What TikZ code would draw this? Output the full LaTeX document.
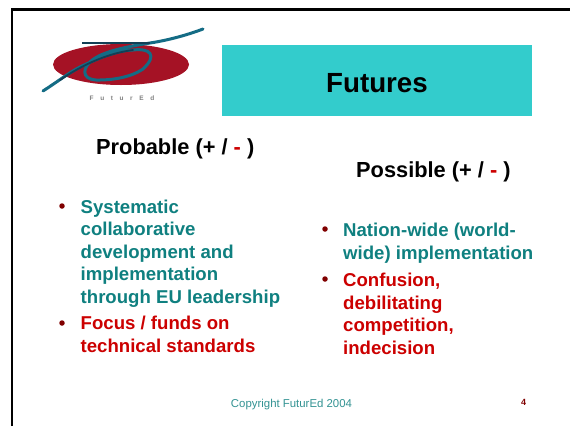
\documentclass[tikz,border=0pt]{standalone}
\usepackage{fontspec}
\setmainfont{Liberation Sans}
\definecolor{teal1}{HTML}{0F8080}
\definecolor{red1}{HTML}{CC0000}
\definecolor{cyan1}{HTML}{33CCCC}
\definecolor{logored}{HTML}{A51225}
\definecolor{logoblue}{HTML}{146C85}
\definecolor{logodark}{HTML}{123F55}
\definecolor{bulletc}{HTML}{800000}
\newcommand{\lsp}{\hspace{6.6pt}}
\tikzset{
 x=1pt,y=-1pt,
 head/.style={font=\bfseries\fontsize{21.8}{26}\selectfont,anchor=base west,inner sep=0},
 blist/.style={font=\bfseries\fontsize{18.6}{22.4}\selectfont,anchor=base west,inner sep=0,align=left},
 dot/.style={circle,fill=bulletc,inner sep=0,minimum size=5.5pt}
}
\begin{document}
\begin{tikzpicture}
\useasboundingbox (0,0) rectangle (570,426);
\fill[white] (0,0) rectangle (570,426);
\draw[black,line width=2.4pt] (12,426) -- (12,9.5) -- (570,9.5);
\fill[cyan1] (222,45) rectangle (532,116);
\node (title) at (377,92) [font=\bfseries\fontsize{27.7}{30}\selectfont,anchor=base,inner sep=0] {Futures};
% logo
\fill[logored] (121,64.5) ellipse [x radius=68,y radius=20.5];
\draw[logoblue,line width=3pt,line cap=round] (43,91) .. controls (60,80) and (70,72) .. (80,67) .. controls (100,57) and (120,50) .. (133,50) .. controls (150,48) and (158,55) .. (143,69) .. controls (130,78) and (110,80) .. (100,80) .. controls (85,81) and (80,72) .. (90,62) .. controls (100,52) and (125,47) .. (150,43) .. controls (170,40) and (190,34) .. (203,29);
\draw[logodark,line width=1.8pt,line cap=round] (60,80) .. controls (85,63) and (110,53) .. (133,50);
\draw[logodark,line width=1.8pt] (82,43) -- (150,43);
\node (logotext) at (122,100) [font=\bfseries\fontsize{6.5}{7}\selectfont,text=gray,anchor=base,inner sep=0] {F\lsp u\lsp t\lsp u\lsp r\lsp E\lsp d};
\node (probable) at (96,154) [head] {Probable (+ / \textcolor{red1}{-} )};
\node (possible) at (356,177) [head] {Possible (+ / \textcolor{red1}{-} )};
\node[dot] (b1) at (62,206) {};
\node (t1) at (80.5,303) [blist,text=teal1] {Systematic\\collaborative\\development and\\implementation\\through EU leadership};
\node[dot] (b2) at (62,323) {};
\node (t2) at (80.5,352) [blist,text=red1] {Focus / funds on\\technical standards};
\node[dot] (b3) at (325,229) {};
\node (t3) at (343,259) [blist,text=teal1] {Nation-wide (world-\\wide) implementation};
\node[dot] (b4) at (325,279) {};
\node (t4) at (343,354) [blist,text=red1] {Confusion,\\debilitating\\competition,\\indecision};
\node (copy) at (291.5,407) [font=\fontsize{11.4}{13}\selectfont,text=teal1!85!white,anchor=base,inner sep=0] {Copyright FuturEd 2004};
\node (num) at (523.5,405) [font=\bfseries\fontsize{9}{11}\selectfont,text=bulletc,anchor=base,inner sep=0] {4};
\end{tikzpicture}
\end{document}
